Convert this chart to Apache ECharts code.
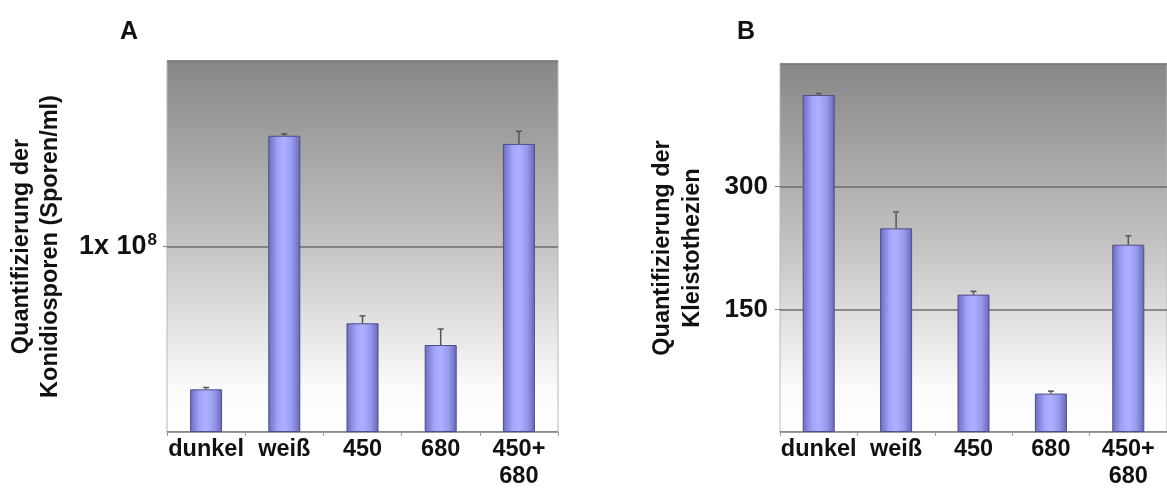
<!DOCTYPE html>
<html>
<head>
<meta charset="utf-8">
<script src="https://cdn.jsdelivr.net/npm/echarts/dist/echarts.min.js"></script>
<style>
  html, body { margin: 0; padding: 0; background: #fff; }
  #container { width: 1167px; height: 490px; }
</style>
</head>
<body>
<div id="container"></div>
<script>
// categories shared by both panels
var categories = ["dunkel", "weiß", "450", "680", "450+\n680"];

// A: conidiospores per ml (mean and upper error)
var sporesMean = [0.230e8, 1.597e8, 0.586e8, 0.469e8, 1.553e8];
var sporesErr = [0.010e8, 0.010e8, 0.040e8, 0.086e8, 0.068e8];
var sporesTicks = [0, 1e8, 2e8];

// B: cleistothecia count (mean and upper error)
var kleistoMean = [412, 249, 168, 47, 229];
var kleistoErr = [2, 20, 4, 3, 11];
var kleistoTicks = [0, 150, 300, 450];

var FONT = "Liberation Sans, Arial, sans-serif";

var dom = document.getElementById("container");
var myChart = echarts.init(dom, null, { renderer: "canvas" });

var plotBg = {
  type: "linear", x: 0, y: 0, x2: 0, y2: 1,
  colorStops: [
    { offset: 0, color: "#878787" },
    { offset: 0.5, color: "#c4c4c4" },
    { offset: 0.88, color: "#fbfbfb" },
    { offset: 1, color: "#ffffff" }
  ]
};

var barStyle = {
  color: {
    type: "linear", x: 0, y: 0, x2: 1, y2: 0,
    colorStops: [
      { offset: 0, color: "#6a6cbf" },
      { offset: 0.3, color: "#a2a4fb" },
      { offset: 0.5, color: "#aeb0ff" },
      { offset: 0.75, color: "#9799ee" },
      { offset: 1, color: "#6567b3" }
    ]
  },
  borderColor: "#4e4e88",
  borderWidth: 1
};

function errorBar(params, api) {
  var base = api.coord([api.value(0), api.value(1)]);
  var top = api.coord([api.value(0), api.value(1) + api.value(2)]);
  var style = { stroke: "#555555", lineWidth: 1.5 };
  return {
    type: "group",
    children: [
      { type: "line", shape: { x1: base[0], y1: base[1], x2: top[0], y2: top[1] }, style: style },
      { type: "line", shape: { x1: top[0] - 3, y1: top[1], x2: top[0] + 3, y2: top[1] }, style: style }
    ]
  };
}

function errData(mean, err) {
  return mean.map(function(m, i) { return [i, m, err[i]]; });
}

function xAxisFor(gridIndex) {
  return {
    type: "category",
    gridIndex: gridIndex,
    data: categories,
    axisLine: { lineStyle: { color: "#9a9a9a", width: 1 } },
    axisTick: { show: true, length: 4, lineStyle: { color: "#9a9a9a" } },
    axisLabel: {
      color: "#111", fontFamily: FONT, fontWeight: "bold", fontSize: 23.5,
      lineHeight: 27, margin: 4, interval: 0
    }
  };
}

var option = {
  animation: false,
  title: [
    { text: "A", left: 120, top: 20, padding: 0,
      textStyle: { fontFamily: FONT, fontWeight: "bold", fontSize: 25, color: "#111" } },
    { text: "B", left: 737, top: 20, padding: 0,
      textStyle: { fontFamily: FONT, fontWeight: "bold", fontSize: 25, color: "#111" } }
  ],
  grid: [
    { left: 167, top: 61, width: 391, height: 371, show: true,
      backgroundColor: plotBg, borderColor: "#b8b8b8", borderWidth: 1 },
    { left: 780, top: 64, width: 391, height: 369, show: true,
      backgroundColor: plotBg, borderColor: "#b8b8b8", borderWidth: 1 }
  ],
  xAxis: [xAxisFor(0), xAxisFor(1)],
  yAxis: [
    {
      type: "value",
      gridIndex: 0,
      min: sporesTicks[0],
      max: sporesTicks[sporesTicks.length - 1],
      interval: sporesTicks[1] - sporesTicks[0],
      name: "Quantifizierung der\nKonidiosporen (Sporen/ml)",
      nameLocation: "middle",
      nameGap: 102,
      nameTextStyle: { fontFamily: FONT, fontWeight: "bold", fontSize: 23.5, lineHeight: 29, color: "#111" },
      axisLine: { show: false },
      axisTick: { show: true, length: 4, lineStyle: { color: "#8a8a8a" } },
      splitLine: { lineStyle: { color: "#6e6e6e", width: 1.5 } },
      axisLabel: {
        margin: 10,
        showMinLabel: false,
        showMaxLabel: false,
        formatter: function(v) { return v === sporesTicks[1] ? "{a|1x 10}{s|8}" : ""; },
        rich: {
          a: { fontFamily: FONT, fontWeight: "bold", fontSize: 27, color: "#111", lineHeight: 30 },
          s: { fontFamily: FONT, fontWeight: "bold", fontSize: 17, color: "#111", verticalAlign: "top", lineHeight: 30, padding: [0, 0, 12, 1] }
        }
      }
    },
    {
      type: "value",
      gridIndex: 1,
      min: kleistoTicks[0],
      max: kleistoTicks[kleistoTicks.length - 1],
      interval: kleistoTicks[1] - kleistoTicks[0],
      name: "Quantifizierung der\nKleistothezien",
      nameLocation: "middle",
      nameGap: 72,
      nameTextStyle: { fontFamily: FONT, fontWeight: "bold", fontSize: 23.5, lineHeight: 30, color: "#111" },
      axisLine: { show: false },
      axisTick: { show: true, length: 5, lineStyle: { color: "#8a8a8a" } },
      splitLine: { lineStyle: { color: "#6e6e6e", width: 1.5 } },
      axisLabel: {
        margin: 12,
        showMinLabel: false,
        showMaxLabel: false,
        fontFamily: FONT, fontWeight: "bold", fontSize: 26, color: "#111"
      }
    }
  ],
  series: [
    { name: "Konidiosporen", type: "bar", xAxisIndex: 0, yAxisIndex: 0,
      barWidth: 32, data: sporesMean, itemStyle: barStyle, z: 2 },
    { name: "Kleistothezien", type: "bar", xAxisIndex: 1, yAxisIndex: 1,
      barWidth: 32, data: kleistoMean, itemStyle: barStyle, z: 2 },
    { name: "Fehler A", type: "custom", xAxisIndex: 0, yAxisIndex: 0,
      renderItem: errorBar, data: errData(sporesMean, sporesErr), z: 3 },
    { name: "Fehler B", type: "custom", xAxisIndex: 1, yAxisIndex: 1,
      renderItem: errorBar, data: errData(kleistoMean, kleistoErr), z: 3 }
  ]
};

if (option && typeof option === "object") {
  myChart.setOption(option, true);
}
</script>
</body>
</html>
